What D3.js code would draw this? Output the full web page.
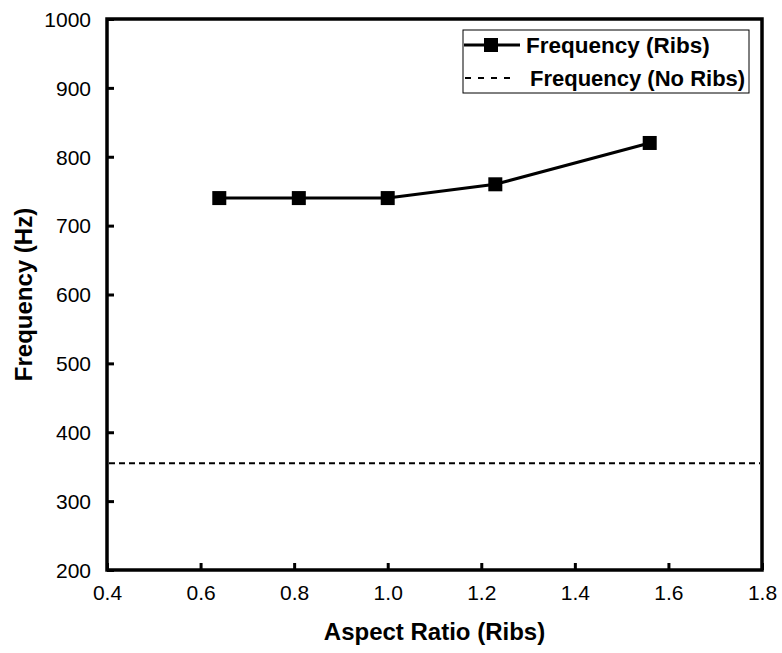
<!DOCTYPE html>
<html>
<head>
<meta charset="utf-8">
<script src="https://cdn.jsdelivr.net/npm/d3@7"></script>
<style>
  body { margin: 0; background: #fff; }
  svg { display: block; }
</style>
</head>
<body>
<svg id="chart" width="782" height="653"></svg>
<script>
// data
const aspectRatio = [0.64, 0.81, 1.0, 1.23, 1.56];
const freqRibs = [740, 740, 740, 760, 820];
const freqNoRibs = 355;
const xTicks = [0.4, 0.6, 0.8, 1.0, 1.2, 1.4, 1.6, 1.8];
const yTicks = [200, 300, 400, 500, 600, 700, 800, 900, 1000];

const margin = {left: 107, top: 19, right: 20, bottom: 83};
const width = 782 - margin.left - margin.right;
const height = 653 - margin.top - margin.bottom;
const font = 'Liberation Sans, Arial, sans-serif';

const svg = d3.select('#chart');
const g = svg.append('g')
    .attr('transform', 'translate(' + margin.left + ',' + margin.top + ')');

const x = d3.scaleLinear().domain([0.4, 1.8]).range([0, width]);
const y = d3.scaleLinear().domain([200, 1000]).range([height, 0]);

// axes, ticks inward
const xAxis = g.append('g')
    .attr('transform', 'translate(0,' + height + ')')
    .call(d3.axisBottom(x).tickValues(xTicks).tickFormat(d3.format('.1f'))
        .tickSizeInner(-7).tickSizeOuter(0).tickPadding(15));
const yAxis = g.append('g')
    .call(d3.axisLeft(y).tickValues(yTicks).tickFormat(d3.format('d'))
        .tickSizeInner(-7).tickSizeOuter(0).tickPadding(16));

[xAxis, yAxis].forEach(function (a) {
    a.select('.domain').remove();
    a.selectAll('.tick line').attr('stroke', '#000').attr('stroke-width', 3);
    a.selectAll('.tick text')
        .attr('fill', '#000')
        .attr('font-family', font)
        .attr('font-size', 21);
});
yAxis.selectAll('.tick text').attr('dy', '0.35em');

// frame
g.append('rect')
    .attr('x', 0)
    .attr('y', 0)
    .attr('width', width)
    .attr('height', height)
    .attr('fill', 'none')
    .attr('stroke', '#000')
    .attr('stroke-width', 3.5);

// no-ribs reference line
g.append('line')
    .attr('x1', 2)
    .attr('x2', width - 2)
    .attr('y1', y(freqNoRibs))
    .attr('y2', y(freqNoRibs))
    .attr('stroke', '#000')
    .attr('stroke-width', 2)
    .attr('stroke-dasharray', '6,4');

// ribs line
const pts = aspectRatio.map(function (d, i) { return [d, freqRibs[i]]; });
g.append('path')
    .datum(pts)
    .attr('fill', 'none')
    .attr('stroke', '#000')
    .attr('stroke-width', 3)
    .attr('d', d3.line().x(function (d) { return x(d[0]); }).y(function (d) { return y(d[1]); }));

g.selectAll('rect.pt')
    .data(pts)
    .enter().append('rect')
    .attr('class', 'pt')
    .attr('x', function (d) { return x(d[0]) - 7; })
    .attr('y', function (d) { return y(d[1]) - 7; })
    .attr('width', 14)
    .attr('height', 14)
    .attr('fill', '#000');

// axis titles
svg.append('text')
    .text('Aspect Ratio (Ribs)')
    .attr('x', margin.left + width / 2)
    .attr('y', 640)
    .attr('text-anchor', 'middle')
    .attr('font-family', font)
    .attr('font-weight', 'bold')
    .attr('font-size', 24);

svg.append('text')
    .text('Frequency (Hz)')
    .attr('transform', 'translate(32,' + (margin.top + height / 2) + ') rotate(-90)')
    .attr('text-anchor', 'middle')
    .attr('font-family', font)
    .attr('font-weight', 'bold')
    .attr('font-size', 24);

// legend
const lg = svg.append('g').attr('transform', 'translate(463,30)');
lg.append('rect')
    .attr('x', 0)
    .attr('y', 0)
    .attr('width', 286)
    .attr('height', 63)
    .attr('fill', '#fff')
    .attr('stroke', '#000')
    .attr('stroke-width', 1);

lg.append('line')
    .attr('x1', 1).attr('x2', 57).attr('y1', 15).attr('y2', 15)
    .attr('stroke', '#000').attr('stroke-width', 3);
lg.append('rect')
    .attr('x', 21).attr('y', 8).attr('width', 14).attr('height', 14)
    .attr('fill', '#000');
lg.append('line')
    .attr('x1', 2).attr('x2', 50).attr('y1', 48).attr('y2', 48)
    .attr('stroke', '#000').attr('stroke-width', 2)
    .attr('stroke-dasharray', '6,7');

lg.append('text')
    .text('Frequency (Ribs)')
    .attr('x', 63).attr('y', 23)
    .attr('font-family', font).attr('font-weight', 'bold').attr('font-size', 22.5);
lg.append('text')
    .text('Frequency (No Ribs)')
    .attr('x', 67).attr('y', 56)
    .attr('font-family', font).attr('font-weight', 'bold').attr('font-size', 22);
</script>
</body>
</html>
